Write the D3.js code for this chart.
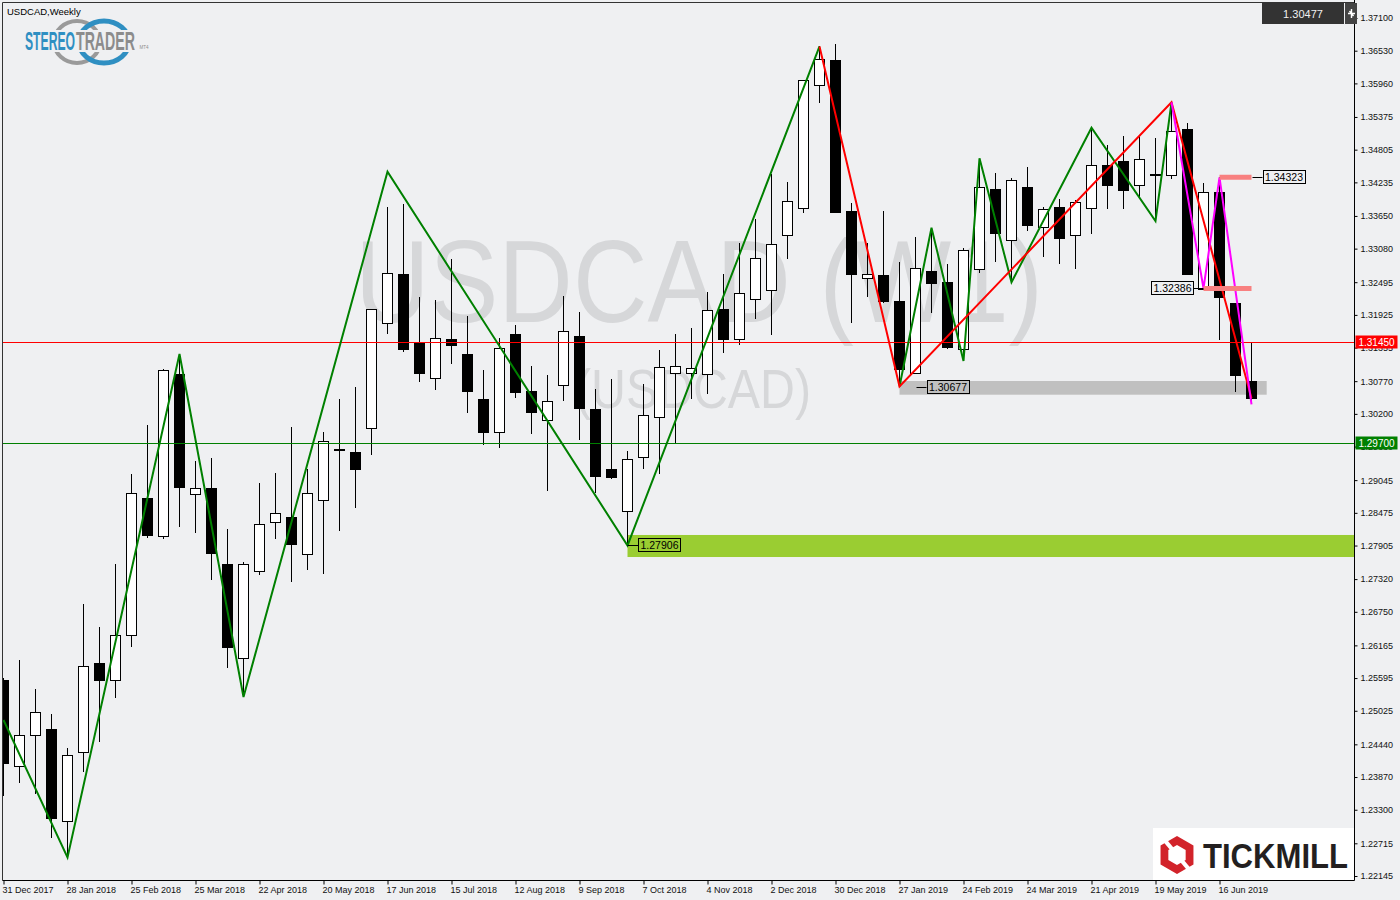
<!DOCTYPE html>
<html><head><meta charset="utf-8">
<script src="https://cdn.jsdelivr.net/npm/d3@7"></script>
<style>
html,body{margin:0;padding:0;background:#eff0f2;}
svg{display:block;}
text{font-family:"Liberation Sans",Arial,sans-serif;}
</style></head><body>
<svg id="c" width="1400" height="900"></svg>
<script>
// ---------------- DATA ----------------
const symbolTitle = "USDCAD,Weekly";
const watermark1 = "USDCAD (W1)";
const watermark2 = "(USDCAD)";
const currentPrice = 1.30477;

const open  = [1.25561,1.24057,1.24598,1.24707,1.23092,1.24312,1.25858,1.25556,1.26334,1.28734,
               1.28059,1.30895,1.28798,1.28908,1.27578,1.25940,1.27456,1.28310,1.28403,1.27753,
               1.28694,1.29583,1.29536,1.29949,1.31779,1.32633,1.31441,1.30813,1.31500,1.31244,
               1.30459,1.29872,1.31592,1.30599,1.30088,1.30698,1.31557,1.30285,1.29239,1.28495,
               1.29443,1.30133,1.30907,1.30907,1.30895,1.32023,1.31500,1.32197,1.32354,1.33313,
               1.33783,1.35927,1.36368,1.33736,1.32563,1.32621,1.32168,1.30913,1.32690,1.32493,
               1.31326,1.32720,1.34120,1.33225,1.34154,1.33452,1.33800,1.33313,1.33783,1.34533,
               1.34608,1.34184,1.34386,1.34358,1.35165,1.32386,1.34062,1.32127,1.30773];
const high  = [1.25600,1.25910,1.25399,1.24969,1.24376,1.26886,1.26491,1.27584,1.29152,1.30006,
               1.30982,1.31226,1.29379,1.29431,1.28194,1.27618,1.28995,1.29170,1.29971,1.29239,
               1.29884,1.30459,1.30669,1.32028,1.33806,1.33858,1.32237,1.32185,1.32900,1.31906,
               1.30965,1.31523,1.31749,1.31035,1.30878,1.32254,1.31976,1.30634,1.30808,1.29553,
               1.30716,1.31308,1.31592,1.31697,1.32319,1.32638,1.33173,1.33591,1.34386,1.34242,
               1.36020,1.36604,1.36647,1.33876,1.33184,1.33736,1.32847,1.33278,1.33428,1.32807,
               1.33091,1.34651,1.34393,1.34311,1.34503,1.33806,1.33940,1.33928,1.35188,1.34887,
               1.35038,1.35043,1.35014,1.35631,1.35265,1.34219,1.34323,1.32133,1.31441];
const low   = [1.23545,1.23771,1.23569,1.22813,1.22464,1.23963,1.24486,1.25253,1.26142,1.28042,
               1.28025,1.28234,1.28129,1.27310,1.25776,1.25265,1.27392,1.28025,1.27275,1.27484,
               1.27414,1.28164,1.28565,1.29489,1.31587,1.31284,1.30761,1.30621,1.31075,1.30221,
               1.29663,1.29611,1.30482,1.29855,1.28861,1.30430,1.29750,1.28826,1.29070,1.27906,
               1.29245,1.29147,1.29693,1.30459,1.30552,1.31256,1.31395,1.31859,1.31580,1.32905,
               1.33707,1.35624,1.33700,1.31789,1.32242,1.32138,1.30677,1.30900,1.31953,1.31326,
               1.31139,1.32650,1.32852,1.32516,1.33387,1.32934,1.32812,1.32730,1.33341,1.33766,
               1.33776,1.33980,1.33574,1.34289,1.32615,1.32386,1.31488,1.30587,1.30372];
const close = [1.24120,1.24598,1.24999,1.23161,1.24249,1.25806,1.25561,1.26341,1.28816,1.28094,
               1.30960,1.28931,1.28903,1.27780,1.26125,1.27578,1.28275,1.28467,1.27937,1.28816,
               1.29722,1.29580,1.29245,1.32023,1.32650,1.31319,1.30918,1.31517,1.31388,1.30604,
               1.29889,1.31343,1.30587,1.30238,1.30419,1.31639,1.30308,1.29122,1.29094,1.29408,
               1.30175,1.31012,1.31029,1.30995,1.32005,1.31493,1.32302,1.32912,1.33156,1.33905,
               1.36014,1.36380,1.33724,1.32643,1.32633,1.32173,1.30977,1.32737,1.32476,1.31360,
               1.33051,1.34149,1.33358,1.34271,1.33497,1.33766,1.33253,1.33888,1.34533,1.34177,
               1.34107,1.34637,1.34380,1.35131,1.32643,1.34072,1.32225,1.30865,1.30477];

const dateLabels = ["31 Dec 2017","28 Jan 2018","25 Feb 2018","25 Mar 2018","22 Apr 2018","20 May 2018",
                    "17 Jun 2018","15 Jul 2018","12 Aug 2018","9 Sep 2018","7 Oct 2018","4 Nov 2018",
                    "2 Dec 2018","30 Dec 2018","27 Jan 2019","24 Feb 2019","24 Mar 2019","21 Apr 2019",
                    "19 May 2019","16 Jun 2019"];
const weeksPerLabel = 4;

const priceTicks = [1.37100,1.36530,1.35960,1.35375,1.34805,1.34235,1.33650,1.33080,1.32495,1.31925,
                    1.31355,1.30770,1.30200,1.29630,1.29045,1.28475,1.27905,1.27320,1.26750,1.26165,
                    1.25595,1.25025,1.24440,1.23870,1.23300,1.22715,1.22145];

const redLevel = 1.31450;
const greenLevel = 1.29700;

// zigzag / trend lines: [week index, price]
const zigGreenA = [[0,1.24864],[4,1.22468],[11,1.31244],[15,1.25265],[24,1.34421],[39,1.27906],[51,1.36604]];
const zigGreenB = [[56,1.30677],[58,1.33445],[60,1.31122],[61,1.34655],[63,1.32493],[68,1.35188],[72,1.33562],[73,1.35631]];
const zigRed    = [[51,1.36604],[56,1.30677],[73,1.35631],[78,1.30472]];
const zigPink   = [[73,1.35631],[75,1.32386],[76,1.34323],[78,1.30364]];

// zones
const greenZone = {from:39, top:1.28089, bottom:1.27705, label:"1.27906", price:1.27906};
const grayZone  = {from:56, to:78.95, top:1.30773, bottom:1.30534, label:"1.30677", price:1.30677};
// short levels
const pinkLevels = [{from:76, to:78, price:1.34323, label:"1.34323", side:"right"},
                    {from:75, to:78, price:1.32386, label:"1.32386", side:"left"}];

// ---------------- CHART ----------------
const svg = d3.select("#c");
const W = 1400, H = 900;
const L = 2.5, T = 2.5, R = 1354.5, B = 880.5;

svg.append("rect").attr("width",W).attr("height",H).attr("fill","#eff0f2");

const x = d3.scaleLinear().domain([0,78]).range([3.5,1251.5]);
const y = d3.scaleLinear().domain([1.22145,1.37100]).range([876,18]);

svg.append("clipPath").attr("id","plot").append("rect")
  .attr("x",L).attr("y",T).attr("width",R-L).attr("height",B-T);
const plot = svg.append("g").attr("clip-path","url(#plot)");

// watermark
plot.append("text").attr("x",355).attr("y",322).text(watermark1)
  .attr("font-size",116).attr("fill","#d6d7d9")
  .attr("textLength",688).attr("lengthAdjust","spacingAndGlyphs");
plot.append("text").attr("x",575).attr("y",408).text(watermark2)
  .attr("font-size",56).attr("fill","#d6d7d9")
  .attr("textLength",236).attr("lengthAdjust","spacingAndGlyphs");

// zones
plot.append("rect").attr("x",x(greenZone.from)).attr("y",y(greenZone.top))
  .attr("width",R - x(greenZone.from)).attr("height",y(greenZone.bottom)-y(greenZone.top))
  .attr("fill","#9acd32");
plot.append("rect").attr("x",x(grayZone.from)).attr("y",y(grayZone.top))
  .attr("width",x(grayZone.to)-x(grayZone.from)).attr("height",y(grayZone.bottom)-y(grayZone.top))
  .attr("fill","#c0c0c0");

// candles
const data = d3.range(open.length).map(i => ({i, o:open[i], h:high[i], l:low[i], c:close[i]}));
const gC = plot.append("g");
gC.selectAll("line").data(data).join("line")
  .attr("x1",d=>x(d.i)).attr("x2",d=>x(d.i))
  .attr("y1",d=>Math.round(y(d.h))).attr("y2",d=>Math.round(y(d.l)))
  .attr("stroke","#000").attr("stroke-width",1);
gC.selectAll("rect").data(data).join("rect")
  .attr("x",d=>x(d.i)-5).attr("width",10)
  .attr("y",d=>Math.round(y(Math.max(d.o,d.c)))+0.5)
  .attr("height",d=>Math.max(1,Math.round(Math.abs(y(d.o)-y(d.c)))))
  .attr("fill",d=>d.c>d.o?"#ffffff":"#000000")
  .attr("stroke","#000").attr("stroke-width",1);

// horizontal levels
plot.append("line").attr("x1",L).attr("x2",R).attr("y1",Math.round(y(redLevel))+0.5).attr("y2",Math.round(y(redLevel))+0.5)
  .attr("stroke","#ff0000").attr("stroke-width",1);
plot.append("line").attr("x1",L).attr("x2",R).attr("y1",Math.round(y(greenLevel))+0.5).attr("y2",Math.round(y(greenLevel))+0.5)
  .attr("stroke","#008000").attr("stroke-width",1);

// zigzags
const line = d3.line().x(d=>x(d[0])).y(d=>y(d[1]));
[[zigGreenA,"#008000"],[zigGreenB,"#008000"],[zigRed,"#ff0000"],[zigPink,"#ff00ff"]].forEach(([pts,col])=>{
  plot.append("path").attr("d",line(pts)).attr("fill","none").attr("stroke",col).attr("stroke-width",2);
});

// pink level segments
pinkLevels.forEach(p=>{
  plot.append("line").attr("x1",x(p.from)).attr("x2",x(p.to)).attr("y1",y(p.price)).attr("y2",y(p.price))
    .attr("stroke","#f88080").attr("stroke-width",5);
});

// price tags on chart
function tag(xEdge, price, txt, side){
  const yc = Math.round(y(price));
  const w = 42, h = 13;
  const bx = side==="right" ? xEdge : xEdge - w;
  plot.append("rect").attr("x",Math.round(bx)+0.5).attr("y",yc-6.5).attr("width",w).attr("height",h)
    .attr("fill","none").attr("stroke","#000").attr("stroke-width",1);
  plot.append("text").attr("x",bx+w/2+0.5).attr("y",yc+0.5).attr("dy","0.36em").attr("text-anchor","middle")
    .attr("font-size",10.5).attr("fill","#000").text(txt);
}
function leader(x1,x2,price){
  const yc = Math.round(y(price))+0.5;
  plot.append("line").attr("x1",x1).attr("x2",x2).attr("y1",yc).attr("y2",yc).attr("stroke","#000").attr("stroke-width",1);
}
leader(x(greenZone.from), x(greenZone.from)+10.5, greenZone.price);
tag(x(greenZone.from)+10.5, greenZone.price, greenZone.label, "right");
leader(x(grayZone.from)+17, x(grayZone.from)+27, grayZone.price);
tag(x(grayZone.from)+27, grayZone.price, grayZone.label, "right");
pinkLevels.forEach(p=>{
  if(p.side==="right"){ leader(x(p.to)+1, x(p.to)+11, p.price); tag(x(p.to)+11, p.price, p.label, "right"); }
  else { leader(x(p.from)-10.5, x(p.from), p.price); tag(x(p.from)-10.5, p.price, p.label, "left"); }
});

// frame
svg.append("path").attr("d",`M${L},${B}V${T}H${R}`).attr("fill","none").attr("stroke","#333").attr("stroke-width",1);
svg.append("line").attr("x1",R).attr("x2",R).attr("y1",0).attr("y2",B).attr("stroke","#000");
svg.append("line").attr("x1",L).attr("x2",R).attr("y1",B).attr("y2",B).attr("stroke","#000");

// y axis
const yAxis = d3.axisRight(y).tickValues(priceTicks).tickFormat(d3.format(".5f")).tickSize(3).tickSizeOuter(0).tickPadding(3);
const gy = svg.append("g").attr("transform",`translate(${R},0)`).call(yAxis);
gy.select(".domain").remove();
gy.selectAll("text").attr("font-size",9).attr("fill","#111").attr("font-family","Liberation Sans, Arial, sans-serif");
gy.selectAll("line").attr("stroke","#000");

// x axis
const xTicks = dateLabels.map((d,k)=>k*weeksPerLabel);
const xAxis = d3.axisBottom(x).tickValues(xTicks).tickFormat((d,k)=>dateLabels[k]).tickSize(4).tickSizeOuter(0).tickPadding(2);
const gx = svg.append("g").attr("transform",`translate(0,${B})`).call(xAxis);
gx.select(".domain").remove();
gx.selectAll("text").attr("font-size",9).attr("fill","#111").attr("text-anchor","start").attr("dx",-1.5)
  .attr("font-family","Liberation Sans, Arial, sans-serif");
gx.selectAll("line").attr("stroke","#000");

// axis level tags
function axisTag(price, fill){
  const yc = Math.round(y(price));
  svg.append("rect").attr("x",R+1).attr("y",yc-6.5).attr("width",42).attr("height",13).attr("fill",fill);
  svg.append("text").attr("x",R+1+21).attr("y",yc+0.5).attr("dy","0.36em").attr("text-anchor","middle")
    .attr("font-size",10).attr("fill","#fff").text(d3.format(".5f")(price));
}
axisTag(redLevel,"#ff0000");
axisTag(greenLevel,"#008000");

// current price box top right
svg.append("rect").attr("x",1262).attr("y",3).attr("width",82).attr("height",21).attr("fill","#333");
svg.append("text").attr("x",1303).attr("y",14).attr("dy","0.36em").attr("text-anchor","middle")
  .attr("font-size",11).attr("fill","#f0f0f0").text(d3.format(".5f")(currentPrice));
svg.append("rect").attr("x",1345).attr("y",3).attr("width",12).attr("height",21).attr("fill","#444");
svg.append("path").attr("d","M1348,13.5H1355M1351.5,9V18M1349.5,11L1353.5,16").attr("stroke","#fff").attr("stroke-width",1.4).attr("fill","none");

// title
svg.append("text").attr("x",7).attr("y",14.5).attr("font-size",9.5).attr("fill","#000").text(symbolTitle);

// StereoTrader logo
const logo = svg.append("g");
logo.append("ellipse").attr("cx",77).attr("cy",42).attr("rx",23).attr("ry",21).attr("fill","none").attr("stroke","#9a9a9a").attr("stroke-width",4);
logo.append("ellipse").attr("cx",104).attr("cy",42).attr("rx",25).attr("ry",21).attr("fill","none").attr("stroke","#2f8fc2").attr("stroke-width",5);
logo.append("rect").attr("x",20).attr("y",30).attr("width",130).attr("height",22).attr("fill","#eff0f2");
logo.append("text").attr("x",25).attr("y",50).attr("font-size",25).attr("font-weight","bold").attr("fill","#2f8fc2")
  .attr("textLength",50).attr("lengthAdjust","spacingAndGlyphs").text("STEREO");
logo.append("text").attr("x",76).attr("y",50).attr("font-size",25).attr("font-weight","bold").attr("fill","#8c8c8c")
  .attr("textLength",59).attr("lengthAdjust","spacingAndGlyphs").text("TRADER");
logo.append("text").attr("x",139.5).attr("y",49).attr("font-size",4.5).attr("fill","#8c8c8c").text("MT4");

// Tickmill logo
const tm = svg.append("g");
tm.append("rect").attr("x",1153).attr("y",828).attr("width",R-1153-0.5).attr("height",B-828-0.5).attr("fill","#ffffff");
const cx0 = 1177, cy0 = 855;
const hex = r => d3.range(6).map(k=>{const a=(-90+60*k)*Math.PI/180; return [cx0+r*Math.cos(a), cy0+r*Math.sin(a)];});
const hp = pts => "M"+pts.map(p=>p.join(",")).join("L")+"Z";
tm.append("path").attr("d",hp(hex(19))+hp(hex(10))).attr("fill","#d2232a").attr("fill-rule","evenodd");
[[-130],[50]].forEach(([ang])=>{
  const a = ang*Math.PI/180;
  tm.append("line").attr("x1",cx0+6*Math.cos(a)).attr("y1",cy0+6*Math.sin(a))
    .attr("x2",cx0+22*Math.cos(a)).attr("y2",cy0+22*Math.sin(a))
    .attr("stroke","#fff").attr("stroke-width",4);
});
tm.append("text").attr("x",1203).attr("y",868).attr("font-size",35).attr("font-weight","bold").attr("fill","#231f20")
  .attr("textLength",145).attr("lengthAdjust","spacingAndGlyphs").text("TICKMILL");
</script>
</body></html>
